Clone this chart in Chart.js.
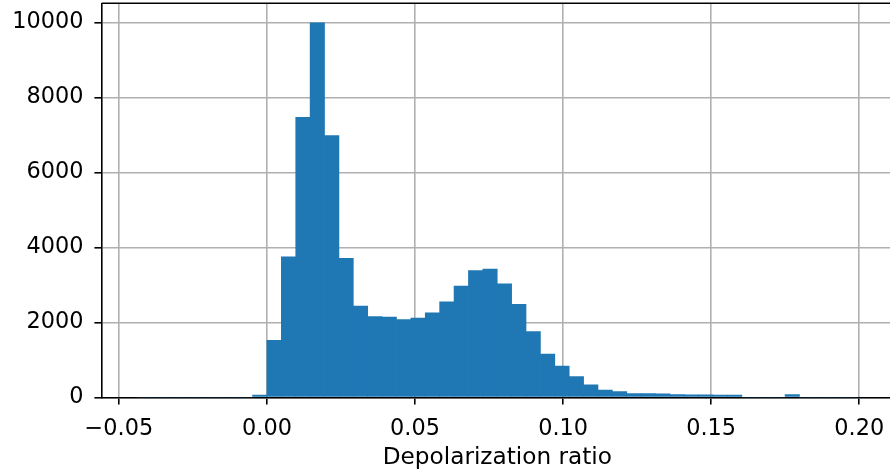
<!DOCTYPE html>
<html>
<head>
<meta charset="utf-8">
<script src="https://cdn.jsdelivr.net/npm/chart.js@4"></script>
<style>
  html, body { margin: 0; padding: 0; background: #fff; overflow: hidden; }
  canvas { display: block; }
</style>
</head>
<body>
<canvas id="histChart" width="894" height="474"></canvas>
<script>
// histogram of depolarization ratio, 50 equal bins
const binStart = -0.04374;
const binWidth = 0.00486;
const counts = [
    0, 0, 0, 0, 0, 0, 0, 0, 60, 1520,
    3750, 7470, 9990, 6980, 3710, 2430, 2150, 2140, 2070, 2110,
    2250, 2550, 2970, 3380, 3420, 3025, 2480, 1750, 1155, 835,
    550, 330, 190, 150, 100, 100, 95, 70, 65, 65,
    60, 60, 0, 0, 0, 70, 0, 0, 0, 0
];
const xTicks = [-0.05, 0.00, 0.05, 0.10, 0.15, 0.20];
const yTicks = [0, 2000, 4000, 6000, 8000, 10000];
const xLabel = 'Depolarization ratio';

document.addEventListener("DOMContentLoaded", function () {
    const ctx = document.getElementById('histChart').getContext('2d');

    Chart.defaults.font.family = 'DejaVu Sans';
    Chart.defaults.font.size = 22.4;
    Chart.defaults.color = '#000';

    const points = counts.map((c, i) => ({ x: binStart + (i + 0.5) * binWidth, y: c }));

    // top and right spines
    const frame = {
        id: 'frame',
        afterDraw(chart) {
            const a = chart.chartArea;
            const c = chart.ctx;
            c.save();
            c.strokeStyle = '#000';
            c.lineWidth = 1.6;
            c.beginPath();
            c.moveTo(a.left, a.top);
            c.lineTo(a.right, a.top);
            c.lineTo(a.right, a.bottom);
            c.stroke();
            c.restore();
        }
    };

    new Chart(ctx, {
        type: 'bar',
        data: {
            datasets: [{
                data: points,
                backgroundColor: '#1f77b4',
                borderWidth: 0,
                barPercentage: 1.0,
                categoryPercentage: 1.0
            }]
        },
        options: {
            responsive: false,
            animation: false,
            layout: { padding: { top: 3.3, right: 1, left: 0, bottom: 0 } },
            plugins: { legend: { display: false }, tooltip: { enabled: false } },
            scales: {
                x: {
                    type: 'linear',
                    min: -0.0558,
                    max: 0.2114,
                    offset: false,
                    z: 1,
                    afterFit: (s) => { s.height = 76.7; s.paddingLeft = 0; s.paddingRight = 0; },
                    afterBuildTicks: (s) => { s.ticks = xTicks.map(v => ({ value: v })); },
                    grid: { offset: false, color: '#b0b0b0', lineWidth: 1.6, tickColor: '#000', tickLength: 7.3, tickWidth: 1.6 },
                    border: { color: '#000', width: 1.6 },
                    ticks: {
                        padding: 11,
                        maxRotation: 0,
                        callback: (v) => v.toFixed(2).replace('-', '\u2212')
                    },
                    title: { display: true, text: xLabel, font: { size: 23.2 }, padding: { top: 0, bottom: 2 } }
                },
                y: {
                    min: 0,
                    max: 10510,
                    z: 1,
                    afterFit: (s) => { s.width = 101.7; s.paddingTop = 0; s.paddingBottom = 0; },
                    afterBuildTicks: (s) => { s.ticks = yTicks.map(v => ({ value: v })); },
                    grid: { color: '#b0b0b0', lineWidth: 1.6, tickColor: '#000', tickLength: 7.3, tickWidth: 1.6 },
                    border: { color: '#000', width: 1.6 },
                    ticks: {
                        padding: 11,
                        callback: (v) => String(v)
                    }
                }
            }
        },
        plugins: [frame]
    });
});
</script>
</body>
</html>
